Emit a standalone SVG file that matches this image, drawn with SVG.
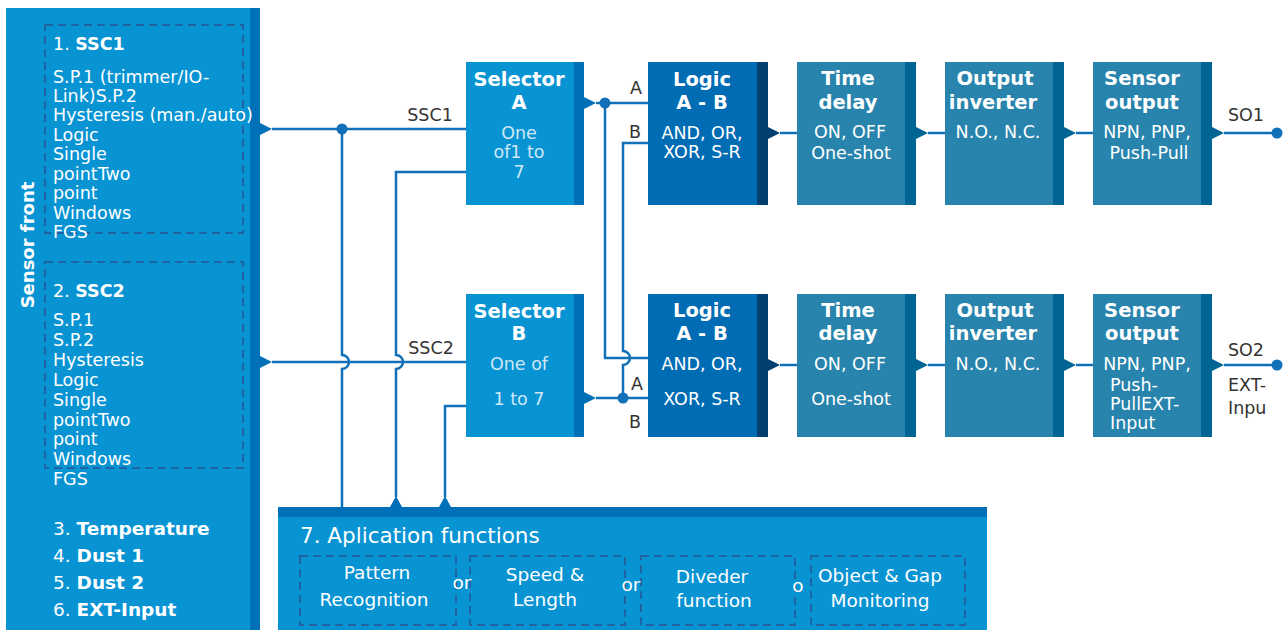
<svg xmlns="http://www.w3.org/2000/svg" width="1286" height="630" viewBox="0 0 1286 630">
<style>
.t{font-family:"DejaVu Sans","Liberation Sans",sans-serif;fill:#fff}
.b{font-weight:bold}
.m{text-anchor:middle}
.ttl{font-size:19.5px;font-weight:bold}
.bd{font-size:17.5px}
.sel{fill:#cfe8f7}
.lb{font-family:"DejaVu Sans","Liberation Sans",sans-serif;fill:#333;font-size:17.5px}
.light{fill:#0893d3}
.sA{fill:#0070b8}
.lg{fill:#006cb3}
.lgs{fill:#023f6e}
.td{fill:#2884ad}
.tds{fill:#006594}
.dash{fill:none;stroke:#1f63a4;stroke-width:2;stroke-dasharray:8 5}
.w{stroke:#1170b7;stroke-width:2.5;fill:none}
.dot{fill:#1170b7}
</style>

<g id="sensor-front">
<rect x="6" y="8" width="244" height="622" class="light"/>
<rect x="250" y="8" width="10" height="622" class="sA"/>
<polygon points="260,123 272,129 260,135" class="sA"/>
<polygon points="260,356 272,362 260,368" class="sA"/>
<text class="t b" font-size="18" transform="translate(34,245) rotate(-90)" text-anchor="middle">Sensor front</text>
<rect x="45" y="25" width="198" height="208" class="dash"/>
<rect x="45" y="262" width="198" height="206" class="dash"/>
<g class="t" font-size="17.5">
<text x="53" y="50">1. <tspan class="b">SSC1</tspan></text>
<text x="53" y="82.5">S.P.1 (trimmer/IO-</text>
<text x="53" y="101.5">Link)S.P.2</text>
<text x="53" y="121">Hysteresis (man./auto)</text>
<text x="53" y="140.5">Logic</text>
<text x="53" y="160">Single</text>
<text x="53" y="179.5">pointTwo</text>
<text x="53" y="199">point</text>
<text x="53" y="218.5">Windows</text>
<text x="53" y="238">FGS</text>
<text x="53" y="297">2. <tspan class="b">SSC2</tspan></text>
<text x="53" y="326">S.P.1</text>
<text x="53" y="346">S.P.2</text>
<text x="53" y="366">Hysteresis</text>
<text x="53" y="386">Logic</text>
<text x="53" y="405.5">Single</text>
<text x="53" y="425.5">pointTwo</text>
<text x="53" y="445">point</text>
<text x="53" y="465">Windows</text>
<text x="53" y="485">FGS</text>
</g>
<g class="t" font-size="18.5">
<text x="53" y="535">3. <tspan class="b">Temperature</tspan></text>
<text x="53" y="562">4. <tspan class="b">Dust 1</tspan></text>
<text x="53" y="589">5. <tspan class="b">Dust 2</tspan></text>
<text x="53" y="616">6. <tspan class="b">EXT-Input</tspan></text>
</g>
</g>

<g id="selector-a">
<rect x="466" y="62" width="108" height="143" class="light"/>
<rect x="574" y="62" width="10" height="143" class="sA"/>
<polygon points="584,97 596,103 584,109" class="sA"/>
<text x="519" y="86" class="t m ttl">Selector</text>
<text x="519" y="109" class="t m ttl">A</text>
<text x="519" y="139" class="t m bd sel">One</text>
<text x="519" y="158" class="t m bd sel">of1 to</text>
<text x="519" y="178" class="t m bd sel">7</text>
</g>

<g id="selector-b">
<rect x="466" y="294" width="108" height="143" class="light"/>
<rect x="574" y="294" width="10" height="143" class="sA"/>
<polygon points="584,392 596,398 584,404" class="sA"/>
<text x="519" y="318" class="t m ttl">Selector</text>
<text x="519" y="340" class="t m ttl">B</text>
<text x="519" y="370" class="t m bd sel">One of</text>
<text x="519" y="405" class="t m bd sel">1 to 7</text>
</g>

<g id="logic-1">
<rect x="648" y="62" width="109" height="143" class="lg"/>
<rect x="757" y="62" width="11" height="143" class="lgs"/>
<polygon points="768,127 780,133 768,139" class="lgs"/>
<text x="702" y="86" class="t m ttl">Logic</text>
<text x="702" y="109" class="t m ttl">A - B</text>
<text x="702" y="139" class="t m bd">AND, OR,</text>
<text x="702" y="158" class="t m bd">XOR, S-R</text>
</g>

<g id="logic-2">
<rect x="648" y="294" width="109" height="143" class="lg"/>
<rect x="757" y="294" width="11" height="143" class="lgs"/>
<polygon points="768,359 780,365 768,371" class="lgs"/>
<text x="702" y="317" class="t m ttl">Logic</text>
<text x="702" y="340" class="t m ttl">A - B</text>
<text x="702" y="370" class="t m bd">AND, OR,</text>
<text x="702" y="405" class="t m bd">XOR, S-R</text>
</g>

<g id="time-delay-1">
<rect x="797" y="62" width="108" height="143" class="td"/>
<rect x="905" y="62" width="11" height="143" class="tds"/>
<polygon points="916,127 928,133 916,139" class="tds"/>
<text x="848" y="85" class="t m ttl">Time</text>
<text x="848" y="109" class="t m ttl">delay</text>
<text x="850" y="138" class="t m bd">ON, OFF</text>
<text x="851" y="159" class="t m bd">One-shot</text>
</g>

<g id="time-delay-2">
<rect x="797" y="294" width="108" height="143" class="td"/>
<rect x="905" y="294" width="11" height="143" class="tds"/>
<polygon points="916,359 928,365 916,371" class="tds"/>
<text x="848" y="317" class="t m ttl">Time</text>
<text x="848" y="340" class="t m ttl">delay</text>
<text x="850" y="370" class="t m bd">ON, OFF</text>
<text x="851" y="405" class="t m bd">One-shot</text>
</g>

<g id="output-inverter-1">
<rect x="945" y="62" width="108" height="143" class="td"/>
<rect x="1053" y="62" width="11" height="143" class="tds"/>
<polygon points="1064,127 1076,133 1064,139" class="tds"/>
<text x="995" y="85" class="t m ttl">Output</text>
<text x="993" y="109" class="t m ttl">inverter</text>
<text x="998" y="138" class="t m bd">N.O., N.C.</text>
</g>

<g id="output-inverter-2">
<rect x="945" y="294" width="108" height="143" class="td"/>
<rect x="1053" y="294" width="11" height="143" class="tds"/>
<polygon points="1064,359 1076,365 1064,371" class="tds"/>
<text x="995" y="317" class="t m ttl">Output</text>
<text x="993" y="340" class="t m ttl">inverter</text>
<text x="998" y="370" class="t m bd">N.O., N.C.</text>
</g>

<g id="sensor-output-1">
<rect x="1093" y="62" width="108" height="143" class="td"/>
<rect x="1201" y="62" width="11" height="143" class="tds"/>
<polygon points="1212,127 1224,133 1212,139" class="tds"/>
<text x="1142" y="85" class="t m ttl">Sensor</text>
<text x="1142" y="109" class="t m ttl">output</text>
<text x="1147" y="138" class="t m bd">NPN, PNP,</text>
<text x="1149" y="159" class="t m bd">Push-Pull</text>
</g>

<g id="sensor-output-2">
<rect x="1093" y="294" width="108" height="143" class="td"/>
<rect x="1201" y="294" width="11" height="143" class="tds"/>
<polygon points="1212,359 1224,365 1212,371" class="tds"/>
<text x="1142" y="317" class="t m ttl">Sensor</text>
<text x="1142" y="340" class="t m ttl">output</text>
<text x="1147" y="370" class="t m bd">NPN, PNP,</text>
<text x="1110" y="391" class="t bd">Push-</text>
<text x="1110" y="410" class="t bd">PullEXT-</text>
<text x="1110" y="429" class="t bd">Input</text>
</g>

<g id="application-functions">
<rect x="278" y="507" width="709" height="123" class="light"/>
<rect x="278" y="507" width="709" height="10" class="sA"/>
<polygon points="390,507 396,496 402,507" class="sA"/>
<polygon points="439,507 445,496 451,507" class="sA"/>
<text x="300" y="543" class="t" font-size="21.5">7. Aplication functions</text>
<rect x="300" y="556" width="156" height="69" class="dash"/>
<rect x="470" y="556" width="155" height="69" class="dash"/>
<rect x="641" y="556" width="154" height="69" class="dash"/>
<rect x="811" y="556" width="154" height="69" class="dash"/>
<g class="t m" font-size="18.5">
<text x="377" y="579">Pattern</text>
<text x="374" y="606">Recognition</text>
<text x="545" y="581">Speed &amp;</text>
<text x="545" y="606">Length</text>
<text x="712" y="583">Diveder</text>
<text x="714" y="607">function</text>
<text x="880" y="582">Object &amp; Gap</text>
<text x="880" y="607">Monitoring</text>
<text x="462" y="589">or</text>
<text x="631" y="591">or</text>
<text x="798" y="592">o</text>
</g>
</g>

<g id="connectors">
<path class="w" d="M272,129 H466"/>
<path class="w" d="M272,362 H466"/>
<path class="w" d="M342,129 V355 A7,7 0 0 1 342,369 V507"/>
<path class="w" d="M466,172 H396 V355 A7,7 0 0 1 396,369 V497"/>
<path class="w" d="M466,406 H445 V497"/>
<path class="w" d="M596,103 H648"/>
<path class="w" d="M605,103 V358 H648"/>
<path class="w" d="M648,143 H623 V351 A7,7 0 0 1 623,365 V398"/>
<path class="w" d="M596,398 H648"/>
<path class="w" d="M780,133 H797"/>
<path class="w" d="M780,365 H797"/>
<path class="w" d="M928,133 H945"/>
<path class="w" d="M928,365 H945"/>
<path class="w" d="M1076,133 H1093"/>
<path class="w" d="M1076,365 H1093"/>
<path class="w" d="M1224,133 H1277"/>
<path class="w" d="M1224,365 H1277"/>
<circle cx="342" cy="129" r="5.5" class="dot"/>
<circle cx="605" cy="103" r="5.5" class="dot"/>
<circle cx="623" cy="398" r="5.5" class="dot"/>
<circle cx="1277" cy="133" r="5.5" class="dot"/>
<circle cx="1277" cy="365" r="5.5" class="dot"/>
<text x="430" y="121" class="lb" text-anchor="middle">SSC1</text>
<text x="431" y="354" class="lb" text-anchor="middle">SSC2</text>
<text x="636" y="94" class="lb" text-anchor="middle">A</text>
<text x="635" y="138" class="lb" text-anchor="middle">B</text>
<text x="637" y="390" class="lb" text-anchor="middle">A</text>
<text x="635" y="428" class="lb" text-anchor="middle">B</text>
<text x="1246" y="121" class="lb" text-anchor="middle">SO1</text>
<text x="1246" y="356" class="lb" text-anchor="middle">SO2</text>
<text x="1228" y="391" class="lb">EXT-</text>
<text x="1228" y="414" class="lb">Inpu</text>
</g>
</svg>
